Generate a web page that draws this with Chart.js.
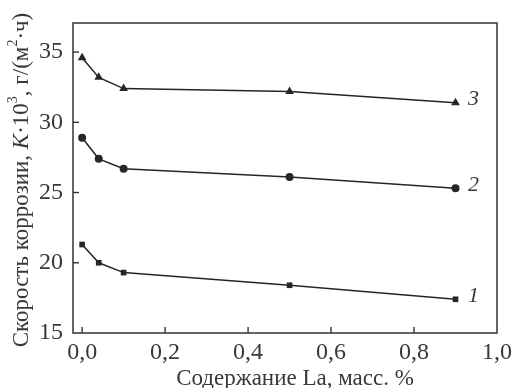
<!DOCTYPE html>
<html>
<head>
<meta charset="utf-8">
<script src="https://cdn.jsdelivr.net/npm/chart.js@4/dist/chart.umd.min.js"></script>
<style>
  html, body { margin: 0; padding: 0; background: #fff; }
  #wrap { width: 514px; height: 388px; }
</style>
</head>
<body>
<div id="wrap"><canvas id="chart" width="514" height="388"></canvas></div>
<script>
// ---- data ----
const laContent = [0.0, 0.04, 0.1, 0.5, 0.9];       // La, mass %
const series1   = [21.3, 20.0, 19.3, 18.4, 17.4];    // squares
const series2   = [28.9, 27.4, 26.7, 26.1, 25.3];    // circles
const series3   = [34.6, 33.2, 32.4, 32.2, 31.4];    // triangles
const seriesTags = ['1', '2', '3'];
const xTicks = [0.0, 0.2, 0.4, 0.6, 0.8, 1.0];
const yTicks = [15, 20, 25, 30, 35];
const xTitle = 'Содержание La, масс. %';

const INK   = '#262626';   // lines and markers
const TEXT  = '#383838';   // labels
const SERIF = '"Liberation Serif", "DejaVu Serif", serif';

function toPoints(ys) {
  return laContent.map((x, i) => ({ x: x, y: ys[i] }));
}

function makeSet(ys, style, radius) {
  return {
    data: toPoints(ys),
    borderColor: INK,
    backgroundColor: INK,
    borderWidth: 1.5,
    pointStyle: style,
    pointRadius: radius,
    pointBorderWidth: 0,
    tension: 0,
    fill: false,
  };
}

// frame, inward ticks, curve numbers and the two axis titles
const decorPlugin = {
  id: 'decor',
  afterDraw(chart) {
    const { ctx, chartArea: a, scales: { x, y } } = chart;
    ctx.save();
    ctx.strokeStyle = '#333';
    ctx.lineWidth = 1.5;
    ctx.strokeRect(a.left, a.top, a.right - a.left, a.bottom - a.top);

    ctx.lineWidth = 1.4;
    xTicks.forEach(v => {
      const px = x.getPixelForValue(v);
      if (px <= a.left + 2 || px >= a.right - 2) return;
      ctx.beginPath(); ctx.moveTo(px, a.bottom); ctx.lineTo(px, a.bottom - 6); ctx.stroke();
    });
    yTicks.forEach(v => {
      const py = y.getPixelForValue(v);
      if (py >= a.bottom - 2 || py <= a.top + 2) return;
      ctx.beginPath(); ctx.moveTo(a.left, py); ctx.lineTo(a.left + 6, py); ctx.stroke();
    });

    // curve numbers next to the last point
    ctx.fillStyle = TEXT;
    ctx.font = 'italic 22px ' + SERIF;
    ctx.textAlign = 'center';
    ctx.textBaseline = 'middle';
    const last = laContent.length - 1;
    [series1, series2, series3].forEach((s, i) => {
      const px = x.getPixelForValue(laContent[last]) + 18;
      const py = y.getPixelForValue(s[last]) - 3;
      ctx.fillText(seriesTags[i], px, py);
    });

    // x title
    ctx.font = '23px ' + SERIF;
    ctx.textBaseline = 'alphabetic';
    ctx.fillText(xTitle, 295, 385);

    // y title, rotated, with italic K and superscripts
    const parts = [
      { t: 'Скорость коррозии, ', f: '23px ' + SERIF },
      { t: 'K', f: 'italic 23px ' + SERIF },
      { t: '·10', f: '23px ' + SERIF },
      { t: '3', f: '14px ' + SERIF, sup: true },
      { t: ', г/(м', f: '23px ' + SERIF },
      { t: '2', f: '14px ' + SERIF, sup: true },
      { t: '·ч)', f: '23px ' + SERIF },
    ];
    let total = 0;
    parts.forEach(p => { ctx.font = p.f; p.w = ctx.measureText(p.t).width; total += p.w; });
    ctx.translate(22, 180);
    ctx.rotate(-Math.PI / 2);
    ctx.textAlign = 'left';
    ctx.textBaseline = 'middle';
    let cx = -total / 2;
    parts.forEach(p => {
      ctx.font = p.f;
      ctx.fillText(p.t, cx, p.sup ? -9 : 0);
      cx += p.w;
    });
    ctx.restore();
  }
};

new Chart(document.getElementById('chart'), {
  type: 'line',
  data: {
    datasets: [
      makeSet(series1, 'rect', 4),
      makeSet(series2, 'circle', 4),
      makeSet(series3, 'triangle', 5),
    ]
  },
  options: {
    responsive: false,
    animation: false,
    layout: { padding: { left: 0, right: 17, top: 23, bottom: 0 } },
    plugins: {
      legend: { display: false },
      tooltip: { enabled: false },
    },
    scales: {
      x: {
        type: 'linear',
        min: -0.022,
        max: 1.0,
        afterFit: s => { s.height = 55; s.paddingLeft = 0; s.paddingRight = 0; },
        afterBuildTicks: s => { s.ticks = xTicks.map(v => ({ value: v })); },
        grid: { display: false },
        border: { display: false },
        ticks: {
          color: TEXT,
          padding: -3,
          maxRotation: 0,
          font: { family: SERIF, size: 24 },
          callback: v => v.toFixed(1).replace('.', ','),
        },
      },
      y: {
        type: 'linear',
        min: 15,
        max: 37.07,
        afterFit: s => { s.width = 73; s.paddingTop = 0; s.paddingBottom = 0; },
        afterBuildTicks: s => { s.ticks = yTicks.map(v => ({ value: v })); },
        grid: { display: false },
        border: { display: false },
        ticks: {
          color: TEXT,
          padding: 2,
          font: { family: SERIF, size: 24 },
        },
      },
    },
  },
  plugins: [decorPlugin],
});
</script>
</body>
</html>
